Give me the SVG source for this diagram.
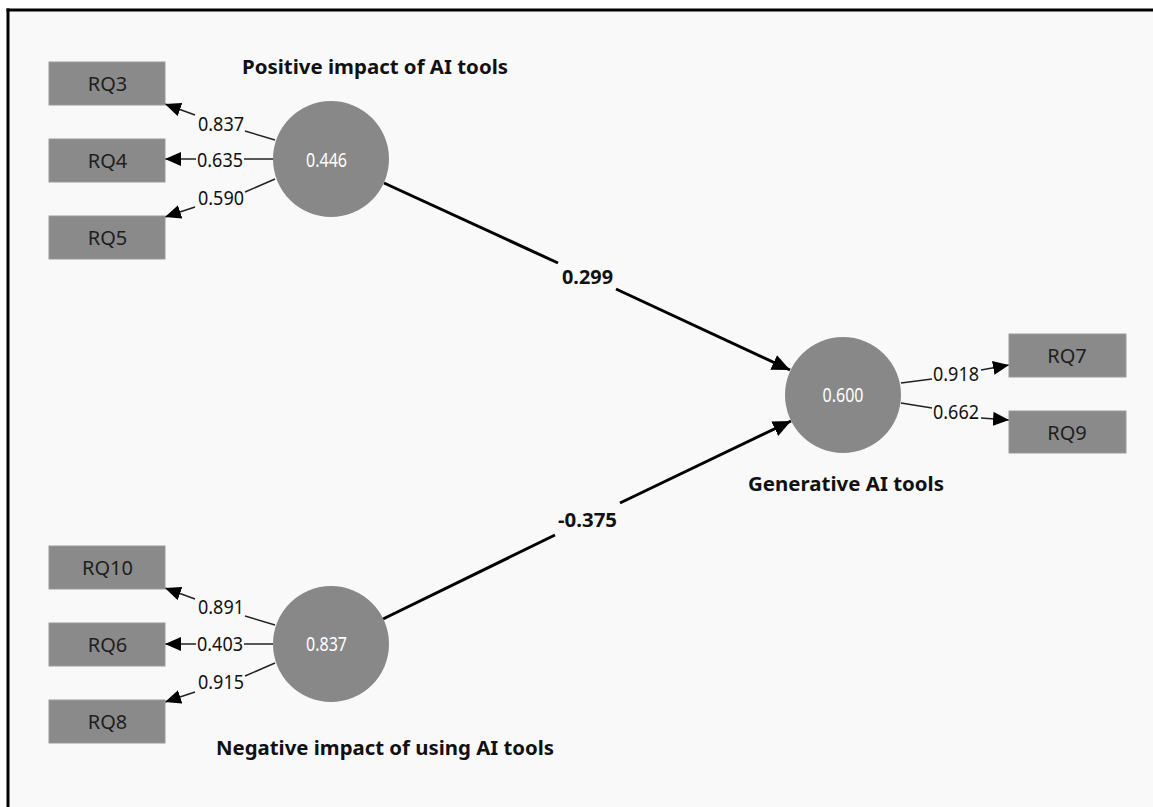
<svg xmlns="http://www.w3.org/2000/svg" width="1153" height="807" viewBox="0 0 1153 807">
<defs>
<marker id="ah" markerUnits="userSpaceOnUse" markerWidth="18" markerHeight="14" refX="16" refY="7" orient="auto">
<path d="M0,0 L16,7 L0,14 Z" fill="#000"/>
</marker>
<marker id="ahb" markerUnits="userSpaceOnUse" markerWidth="20" markerHeight="16" refX="18" refY="8" orient="auto">
<path d="M0,0 L18,8 L0,16 Z" fill="#000"/>
</marker>
<style>
.box{fill:#8a8a8a;stroke:#9a9a9a;stroke-width:1}
.lv{fill:#888888}
.bt{font-family:"Noto Sans","Open Sans",sans-serif;font-size:20px;fill:#1e1e1e;text-anchor:middle}
.ct{font-family:"Noto Sans","Open Sans",sans-serif;font-size:19px;fill:#ffffff;text-anchor:middle}
.ld{font-family:"Noto Sans","Open Sans",sans-serif;font-size:20px;fill:#111;text-anchor:middle}
.pc{font-family:"Noto Sans","Open Sans",sans-serif;font-size:20px;font-weight:bold;fill:#111;text-anchor:middle}
.tt{font-family:"Noto Sans","Open Sans",sans-serif;font-size:20px;font-weight:bold;fill:#111}
.seg{stroke:#222;stroke-width:1.5;fill:none}
.thin{stroke:#222;stroke-width:1.5;fill:none;marker-end:url(#ah)}
.tseg{stroke:#000;stroke-width:3;fill:none}
.thick{stroke:#000;stroke-width:3;fill:none;marker-end:url(#ahb)}
</style>
</defs>
<rect x="0" y="0" width="1153" height="807" fill="#ffffff"/>
<rect x="8" y="10" width="1145" height="797" fill="#f9f9f9"/>
<line x1="8" y1="8.5" x2="8" y2="807" stroke="#000" stroke-width="3"/>
<line x1="6.5" y1="10" x2="1153" y2="10" stroke="#000" stroke-width="3"/>

<g id="connectors">
<line class="tseg" x1="384" y1="183" x2="558" y2="263"/>
<line class="thick" x1="616" y1="289" x2="790" y2="370"/>
<line class="tseg" x1="383" y1="619" x2="555" y2="535"/>
<line class="thick" x1="620" y1="503" x2="791" y2="421"/>

<line class="seg" x1="275" y1="140" x2="245" y2="131"/>
<line class="thin" x1="195" y1="115" x2="165" y2="104"/>
<line class="seg" x1="273" y1="159" x2="244" y2="159"/>
<line class="thin" x1="196" y1="159" x2="165" y2="159"/>
<line class="seg" x1="275" y1="179" x2="245" y2="192"/>
<line class="thin" x1="195" y1="207" x2="165" y2="217"/>

<line class="seg" x1="275" y1="625" x2="245" y2="616"/>
<line class="thin" x1="195" y1="599" x2="165" y2="588"/>
<line class="seg" x1="273" y1="644" x2="244" y2="644"/>
<line class="thin" x1="196" y1="644" x2="165" y2="644"/>
<line class="seg" x1="275" y1="663" x2="245" y2="676"/>
<line class="thin" x1="195" y1="692" x2="165" y2="702"/>

<line class="seg" x1="901" y1="383" x2="932" y2="379"/>
<line class="thin" x1="981" y1="370" x2="1009" y2="365"/>
<line class="seg" x1="901" y1="403" x2="932" y2="408"/>
<line class="thin" x1="981" y1="418" x2="1009" y2="420"/>

<text class="ld" x="221" y="131" textLength="46" lengthAdjust="spacingAndGlyphs">0.837</text>
<text class="ld" x="220" y="167" textLength="46" lengthAdjust="spacingAndGlyphs">0.635</text>
<text class="ld" x="221" y="205" textLength="46" lengthAdjust="spacingAndGlyphs">0.590</text>
<text class="ld" x="221" y="614" textLength="46" lengthAdjust="spacingAndGlyphs">0.891</text>
<text class="ld" x="220" y="651" textLength="46" lengthAdjust="spacingAndGlyphs">0.403</text>
<text class="ld" x="221" y="689" textLength="46" lengthAdjust="spacingAndGlyphs">0.915</text>
<text class="ld" x="956" y="381" textLength="46" lengthAdjust="spacingAndGlyphs">0.918</text>
<text class="ld" x="956" y="419" textLength="46" lengthAdjust="spacingAndGlyphs">0.662</text>
<text class="pc" x="587.5" y="284" textLength="51" lengthAdjust="spacingAndGlyphs">0.299</text>
<text class="pc" x="587.5" y="527" textLength="59" lengthAdjust="spacingAndGlyphs">-0.375</text>
</g>

<g id="pos">
<circle class="lv" cx="331" cy="159" r="58"/>
<text class="ct" x="326.5" y="167" textLength="41" lengthAdjust="spacingAndGlyphs">0.446</text>
<text class="tt" x="242" y="74" textLength="266" lengthAdjust="spacingAndGlyphs">Positive impact of AI tools</text>
</g>
<g id="neg">
<circle class="lv" cx="331" cy="644" r="58"/>
<text class="ct" x="326.5" y="651" textLength="41" lengthAdjust="spacingAndGlyphs">0.837</text>
<text class="tt" x="216" y="755" textLength="338" lengthAdjust="spacingAndGlyphs">Negative impact of using AI tools</text>
</g>
<g id="gen">
<circle class="lv" cx="843" cy="395" r="58"/>
<text class="ct" x="843" y="402" textLength="41" lengthAdjust="spacingAndGlyphs">0.600</text>
<text class="tt" x="748" y="491" textLength="196" lengthAdjust="spacingAndGlyphs">Generative AI tools</text>
</g>

<g id="RQ3"><rect class="box" x="49" y="62" width="116" height="43"/><text class="bt" x="107.5" y="91">RQ3</text></g>
<g id="RQ4"><rect class="box" x="49" y="139" width="116" height="43"/><text class="bt" x="107.5" y="168">RQ4</text></g>
<g id="RQ5"><rect class="box" x="49" y="216" width="116" height="43"/><text class="bt" x="107.5" y="245">RQ5</text></g>
<g id="RQ10"><rect class="box" x="49" y="546" width="116" height="43"/><text class="bt" x="107.5" y="575">RQ10</text></g>
<g id="RQ6"><rect class="box" x="49" y="623" width="116" height="43"/><text class="bt" x="107.5" y="652">RQ6</text></g>
<g id="RQ8"><rect class="box" x="49" y="700" width="116" height="43"/><text class="bt" x="107.5" y="729">RQ8</text></g>
<g id="RQ7"><rect class="box" x="1009" y="334" width="117" height="43"/><text class="bt" x="1067" y="363">RQ7</text></g>
<g id="RQ9"><rect class="box" x="1009" y="411" width="117" height="42"/><text class="bt" x="1067" y="440">RQ9</text></g>
</svg>
